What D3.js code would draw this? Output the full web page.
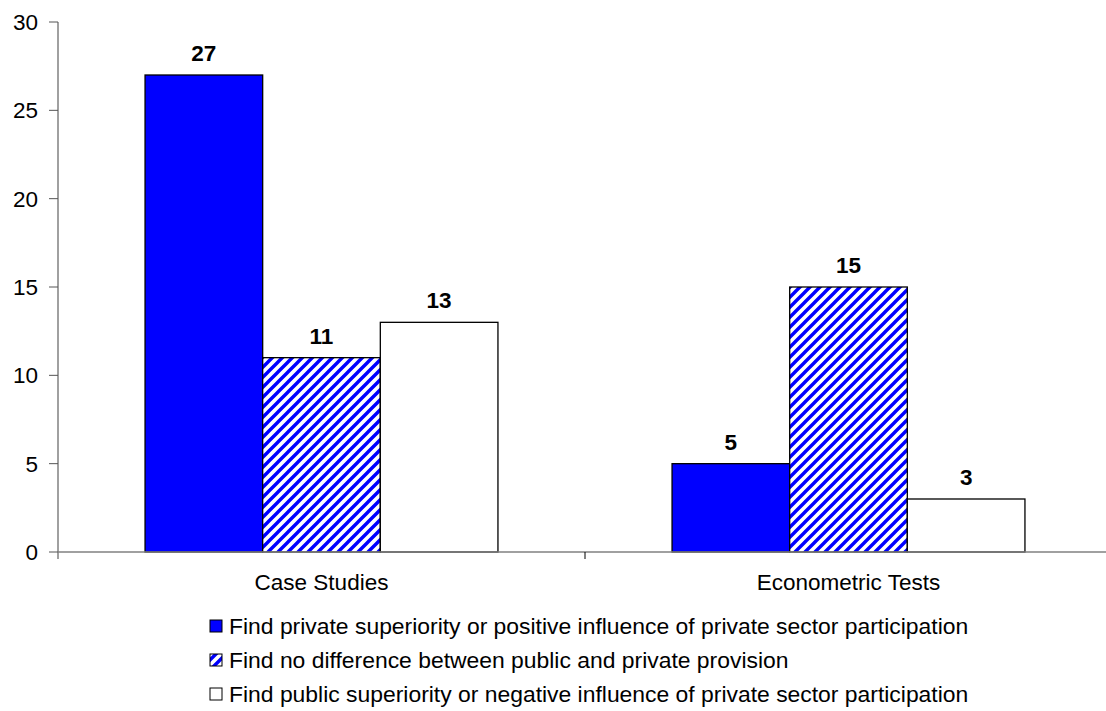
<!DOCTYPE html>
<html lang="en">
<head>
<meta charset="UTF-8">
<title>Studies</title>
<script src="https://d3js.org/d3.v7.min.js"></script>
<style>
  body { margin: 0; background: #fff; }
  text { font-family: Arial, "Liberation Sans", sans-serif; fill: #000; }
</style>
</head>
<body>
<div class="canvas"></div>
<script>
  const categories = ['Case Studies', 'Econometric Tests']
  const seriesNames = [
    'Find private superiority or positive influence of private sector participation',
    'Find no difference between public and private provision',
    'Find public superiority or negative influence of private sector participation'
  ]
  const privateBetter = [27, 5]
  const noDifference = [11, 15]
  const publicBetter = [13, 3]
  const yTicks = [0, 5, 10, 15, 20, 25, 30]

  const seriesValues = [privateBetter, noDifference, publicBetter]
  const fills = ['#0000ff', 'url(#hatch)', '#ffffff']

  const width = 1106
  const height = 711
  const [mt, ml] = [22, 58]
  const graphWidth = 1054
  const graphHeight = 530
  const fontSize = '22.5px'

  const svg = d3.select('.canvas')
    .append('svg')
    .attr('width', width)
    .attr('height', height)

  const pat = svg.append('defs').append('pattern')
    .attr('id', 'hatch')
    .attr('patternUnits', 'userSpaceOnUse')
    .attr('width', 10)
    .attr('height', 10)
  pat.append('rect').attr('width', 10).attr('height', 10).attr('fill', '#fff')
  pat.append('path')
    .attr('d', 'M-3,3 L3,-3 M0,10 L10,0 M7,13 L13,7')
    .attr('stroke', '#0000ff')
    .attr('stroke-width', 3.4)

  const graph = svg.append('g')
    .attr('transform', `translate(${ml}, ${mt})`)

  const x0 = d3.scaleBand()
    .domain(categories)
    .range([0, graphWidth])

  const x1 = d3.scaleBand()
    .domain(d3.range(seriesNames.length))
    .range([0, x0.bandwidth()])
    .paddingOuter(0.74)

  const y = d3.scaleLinear()
    .domain([0, 30])
    .range([graphHeight, 0])

  // bars
  categories.forEach((c, ci) => {
    const g = graph.append('g').attr('transform', `translate(${x0(c)}, 0)`)
    seriesValues.forEach((vals, si) => {
      g.append('rect')
        .attr('x', x1(si))
        .attr('y', y(vals[ci]))
        .attr('width', x1.bandwidth())
        .attr('height', graphHeight - y(vals[ci]))
        .attr('fill', fills[si])
        .attr('stroke', '#000')
        .attr('stroke-width', 1.3)
      g.append('text')
        .attr('x', x1(si) + x1.bandwidth() / 2)
        .attr('y', y(vals[ci]) - 14)
        .attr('text-anchor', 'middle')
        .style('font-size', fontSize)
        .style('font-weight', 'bold')
        .text(vals[ci])
    })
  })

  // y axis
  const yAxisG = graph.append('g')
  yAxisG.append('line')
    .attr('x1', 0).attr('x2', 0)
    .attr('y1', 0).attr('y2', graphHeight + 7)
    .attr('stroke', '#808080').attr('stroke-width', 1.5)
  yTicks.forEach(t => {
    yAxisG.append('line')
      .attr('x1', -9).attr('x2', 0)
      .attr('y1', y(t)).attr('y2', y(t))
      .attr('stroke', '#555').attr('stroke-width', 1)
    yAxisG.append('text')
      .attr('x', -20)
      .attr('y', y(t))
      .attr('dy', '0.35em')
      .attr('text-anchor', 'end')
      .style('font-size', fontSize)
      .text(t)
  })

  // x axis
  const xAxisG = graph.append('g').attr('transform', `translate(0, ${graphHeight})`)
  xAxisG.append('line')
    .attr('x1', 0).attr('x2', graphWidth)
    .attr('stroke', '#808080').attr('stroke-width', 1.5)
  xAxisG.append('line')
    .attr('x1', x0.step()).attr('x2', x0.step())
    .attr('y1', 0).attr('y2', 7)
    .attr('stroke', '#000').attr('stroke-width', 1)
  categories.forEach(c => {
    xAxisG.append('text')
      .attr('x', x0(c) + x0.bandwidth() / 2)
      .attr('y', 38)
      .attr('text-anchor', 'middle')
      .style('font-size', fontSize)
      .text(c)
  })

  // legend
  const legend = svg.append('g').attr('transform', 'translate(210, 626)')
  seriesNames.forEach((name, i) => {
    const row = legend.append('g').attr('transform', `translate(0, ${i * 34})`)
    row.append('rect')
      .attr('x', 0).attr('y', -6)
      .attr('width', 12).attr('height', 12)
      .attr('fill', fills[i])
      .attr('stroke', '#000')
      .attr('stroke-width', 1)
    row.append('text')
      .attr('x', 19)
      .attr('y', 0)
      .attr('dy', '0.35em')
      .style('font-size', '22.9px')
      .text(name)
  })
</script>
</body>
</html>
